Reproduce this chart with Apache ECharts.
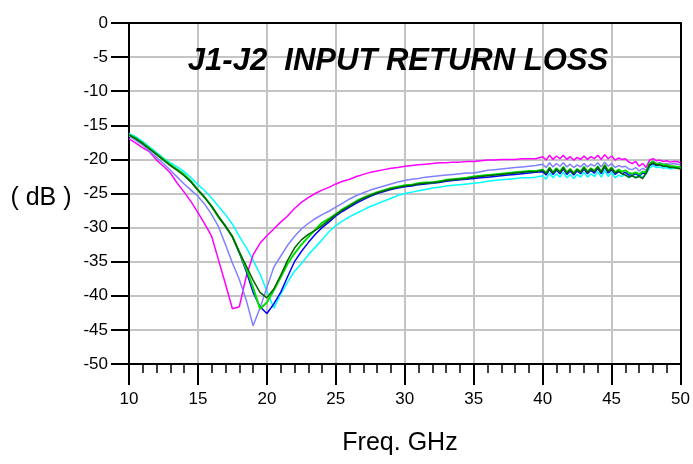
<!DOCTYPE html>
<html>
<head>
<meta charset="utf-8">
<script src="https://cdn.jsdelivr.net/npm/echarts@6/dist/echarts.min.js"></script>
<style>
html,body{margin:0;padding:0;background:#fff;}
#chart{width:693px;height:464px;}
</style>
</head>
<body>
<div id="chart"></div>
<script>
// Frequency samples (GHz): 0.5 GHz steps to 39.5, then 0.25 GHz steps to 50
var freq = [10,10.5,11,11.5,12,12.5,13,13.5,14,14.5,15,15.5,16,16.5,17,17.5,18,18.5,19,19.5,
  20,20.5,21,21.5,22,22.5,23,23.5,24,24.5,25,25.5,26,26.5,27,27.5,28,28.5,29,29.5,
  30,30.5,31,31.5,32,32.5,33,33.5,34,34.5,35,35.5,36,36.5,37,37.5,38,38.5,39,39.5,
  40,40.25,40.5,40.75,41,41.25,41.5,41.75,42,42.25,42.5,42.75,43,43.25,43.5,43.75,
  44,44.25,44.5,44.75,45,45.25,45.5,45.75,46,46.25,46.5,46.75,47,47.25,47.5,47.75,
  48,48.25,48.5,48.75,49,49.25,49.5,49.75,50];

var magenta = [-17.0,-17.6,-18.3,-18.9,-20.1,-21.0,-22.0,-23.5,-24.8,-26.2,-27.8,-29.5,-31.3,-34.8,-38.3,-41.9,-41.6,-37.2,-34.0,-32.3,
  -31.2,-30.2,-29.2,-28.3,-27.2,-26.3,-25.6,-25.0,-24.5,-24.1,-23.6,-23.2,-22.9,-22.5,-22.2,-21.9,-21.7,-21.5,-21.3,-21.2,
  -21.0,-20.9,-20.8,-20.7,-20.6,-20.5,-20.5,-20.4,-20.4,-20.3,-20.3,-20.2,-20.1,-20.1,-20.0,-20.0,-20.0,-19.9,-19.9,-19.9,
  -19.6,-20.1,-19.4,-20.0,-19.5,-19.9,-19.4,-20.0,-19.6,-20.1,-19.7,-20.0,-19.5,-20.0,-19.6,-19.9,
  -19.4,-20.0,-19.3,-19.9,-19.5,-20.1,-19.8,-20.0,-19.9,-20.4,-20.6,-20.3,-21.0,-20.6,-21.2,-20.1,
  -19.9,-20.2,-20.1,-20.3,-20.2,-20.4,-20.3,-20.3,-20.5];

var purple = [-16.6,-17.2,-17.9,-18.8,-19.7,-20.6,-21.6,-22.6,-23.6,-24.5,-25.4,-26.6,-28.1,-29.9,-32.5,-35.2,-37.6,-40.6,-44.4,-41.8,
  -38.8,-35.8,-34.2,-32.6,-31.3,-30.2,-29.4,-28.7,-28.1,-27.6,-27.0,-26.4,-25.8,-25.3,-24.9,-24.5,-24.2,-23.9,-23.6,-23.3,
  -23.1,-22.9,-22.8,-22.6,-22.5,-22.4,-22.3,-22.2,-22.1,-22.0,-22.0,-21.8,-21.6,-21.5,-21.4,-21.3,-21.2,-21.1,-21.0,-20.9,
  -20.7,-21.2,-20.5,-21.1,-20.6,-21.0,-20.5,-21.1,-20.7,-21.2,-20.8,-21.1,-20.6,-21.1,-20.7,-21.0,
  -20.5,-21.1,-20.4,-21.0,-20.6,-21.2,-20.9,-21.1,-21.0,-21.4,-21.5,-21.2,-21.7,-21.3,-21.6,-20.5,
  -20.3,-20.6,-20.5,-20.7,-20.6,-20.7,-20.6,-20.7,-20.8];

var cyan = [-16.2,-16.7,-17.4,-18.2,-19.0,-19.8,-20.5,-21.1,-21.8,-22.7,-23.7,-24.6,-25.7,-26.9,-28.1,-29.5,-31.3,-32.9,-34.8,-36.8,
  -39.3,-41.8,-39.8,-38.0,-36.4,-35.3,-34.0,-32.9,-31.8,-30.6,-29.7,-29.0,-28.4,-27.9,-27.4,-26.9,-26.5,-26.1,-25.7,-25.3,
  -25.0,-24.8,-24.6,-24.4,-24.2,-24.1,-23.9,-23.8,-23.7,-23.6,-23.5,-23.4,-23.2,-23.1,-23.0,-22.9,-22.8,-22.7,-22.7,-22.6,
  -22.4,-22.9,-22.0,-22.7,-22.1,-22.6,-21.9,-22.7,-22.2,-22.8,-22.2,-22.6,-21.9,-22.6,-22.1,-22.5,
  -21.8,-22.6,-21.6,-22.5,-21.9,-22.7,-22.3,-22.5,-22.2,-22.7,-22.4,-22.6,-22.3,-22.6,-22.1,-21.3,
  -20.9,-21.2,-21.1,-21.3,-21.2,-21.4,-21.3,-21.3,-21.3];

var lime = [-16.4,-16.9,-17.6,-18.4,-19.2,-20.0,-20.8,-21.5,-22.2,-23.2,-24.5,-25.6,-26.9,-28.5,-29.8,-31.3,-33.6,-36.0,-38.8,-41.9,
  -41.0,-39.2,-37.3,-35.3,-33.8,-32.5,-31.4,-30.3,-29.3,-28.7,-28.0,-27.3,-26.7,-26.1,-25.6,-25.2,-24.8,-24.5,-24.2,-24.0,
  -23.8,-23.7,-23.5,-23.4,-23.4,-23.2,-23.0,-22.9,-22.8,-22.7,-22.5,-22.4,-22.3,-22.2,-22.1,-22.0,-21.9,-21.8,-21.7,-21.7,
  -21.5,-22.0,-21.2,-21.9,-21.3,-21.8,-21.1,-21.9,-21.4,-22.0,-21.4,-21.8,-21.1,-21.8,-21.3,-21.7,
  -21.0,-21.8,-20.8,-21.7,-21.2,-21.9,-21.5,-21.8,-21.6,-22.0,-22.1,-21.9,-22.2,-21.8,-21.9,-20.6,
  -20.3,-20.7,-20.6,-20.8,-20.8,-21.0,-21.0,-21.1,-21.1];

var blue = [-16.4,-16.9,-17.6,-18.4,-19.2,-20.0,-20.8,-21.5,-22.3,-23.3,-24.5,-25.6,-26.9,-28.4,-29.8,-31.4,-33.7,-36.4,-39.5,-41.6,
  -42.6,-41.2,-39.5,-37.2,-35.0,-33.5,-32.2,-31.0,-30.0,-29.2,-28.3,-27.6,-27.0,-26.4,-25.9,-25.4,-25.0,-24.7,-24.4,-24.2,
  -24.0,-23.9,-23.7,-23.6,-23.5,-23.4,-23.2,-23.1,-23.0,-22.9,-22.8,-22.7,-22.6,-22.5,-22.4,-22.3,-22.2,-22.1,-22.0,-21.9,
  -21.8,-22.3,-21.5,-22.2,-21.6,-22.1,-21.4,-22.2,-21.7,-22.3,-21.7,-22.1,-21.4,-22.1,-21.6,-22.0,
  -21.3,-22.1,-21.1,-22.0,-21.5,-22.2,-21.8,-22.1,-21.9,-22.3,-22.3,-22.1,-22.4,-22.0,-22.1,-20.9,
  -20.6,-20.9,-20.8,-21.0,-21.0,-21.1,-21.1,-21.2,-21.2];

var darkGreen = [-16.4,-17.0,-17.7,-18.5,-19.3,-20.1,-20.9,-21.6,-22.4,-23.3,-24.5,-25.6,-26.9,-28.4,-29.8,-31.3,-33.6,-35.6,-37.7,-39.5,
  -40.3,-39.0,-37.0,-34.8,-33.0,-31.8,-31.0,-30.4,-29.7,-28.9,-28.1,-27.4,-26.8,-26.2,-25.7,-25.3,-24.9,-24.6,-24.3,-24.1,
  -23.9,-23.8,-23.6,-23.5,-23.4,-23.3,-23.1,-23.0,-22.9,-22.8,-22.6,-22.5,-22.4,-22.3,-22.2,-22.1,-22.0,-21.9,-21.8,-21.8,
  -21.6,-22.1,-21.3,-22.0,-21.4,-21.9,-21.2,-22.0,-21.5,-22.1,-21.5,-21.9,-21.2,-21.9,-21.4,-21.8,
  -21.1,-21.9,-20.9,-21.8,-21.3,-22.0,-21.7,-22.1,-22.3,-22.6,-22.4,-22.7,-22.5,-22.8,-22.0,-20.8,
  -20.5,-20.8,-20.8,-21.0,-21.0,-21.2,-21.2,-21.3,-21.4];

var titleText = 'J1-J2  INPUT RETURN LOSS';
var yName = '( dB )';
var xName = 'Freq. GHz';

function pairs(arr){ return freq.map(function(f,i){ return [f, arr[i]]; }); }

var FONT = 'Liberation Sans, Arial, sans-serif';
var chart = echarts.init(document.getElementById('chart'), null, {renderer:'canvas'});

function lineSeries(name, arr, color, width){
  return {name:name, type:'line', data:pairs(arr), showSymbol:false, symbol:'none',
    lineStyle:{color:color, width:width}, itemStyle:{color:color}, animation:false, z:3};
}

chart.setOption({
  animation:false,
  backgroundColor:'#ffffff',
  grid:{left:129, right:10, top:23, bottom:100, containLabel:false},
  xAxis:[{
    type:'value', min:10, max:50, interval:5,
    axisLine:{show:true, onZero:false, lineStyle:{color:'#000', width:2}},
    axisTick:{show:true, inside:false, length:21, lineStyle:{color:'#000', width:2}},
    minorTick:{show:true, splitNumber:5, length:9, lineStyle:{color:'#000', width:1.5}},
    axisLabel:{show:true, margin:27, color:'#000', fontSize:17, fontFamily:FONT},
    splitLine:{show:true, lineStyle:{color:'#c4c4c4', width:2}},
    minorSplitLine:{show:false}
  },{
    type:'value', min:10, max:50, interval:5, position:'top',
    axisLine:{show:true, lineStyle:{color:'#000', width:2}},
    axisTick:{show:false}, axisLabel:{show:false}, splitLine:{show:false}
  }],
  yAxis:[{
    type:'value', min:-50, max:0, interval:5,
    axisLine:{show:true, onZero:false, lineStyle:{color:'#000', width:2}},
    axisTick:{show:true, inside:false, length:18, lineStyle:{color:'#000', width:2}},
    axisLabel:{show:true, margin:21, color:'#000', fontSize:17, fontFamily:FONT},
    splitLine:{show:true, lineStyle:{color:'#c4c4c4', width:2}}
  },{
    type:'value', min:-50, max:0, interval:5, position:'right',
    axisLine:{show:true, lineStyle:{color:'#000', width:2}},
    axisTick:{show:false}, axisLabel:{show:false}, splitLine:{show:false}
  }],
  series:[
    lineSeries('S1', cyan, '#00ffff', 1.5),
    lineSeries('S2', magenta, '#ff00ff', 1.5),
    lineSeries('S3', purple, '#8080ff', 1.5),
    lineSeries('S4', blue, '#0000ff', 1.5),
    lineSeries('S5', lime, '#00e000', 2),
    lineSeries('S6', darkGreen, '#006400', 1.5)
  ],
  graphic:[
    {type:'text', x:398, y:61, z:10, style:{text:titleText, textAlign:'center', textVerticalAlign:'middle',
      font:'italic bold 31px ' + FONT, fill:'#000'}},
    {type:'text', x:41, y:198, z:10, style:{text:yName, textAlign:'center', textVerticalAlign:'middle',
      font:'25px ' + FONT, fill:'#000'}},
    {type:'text', x:400, y:443, z:10, style:{text:xName, textAlign:'center', textVerticalAlign:'middle',
      font:'25px ' + FONT, fill:'#000'}}
  ]
});
</script>
</body>
</html>
